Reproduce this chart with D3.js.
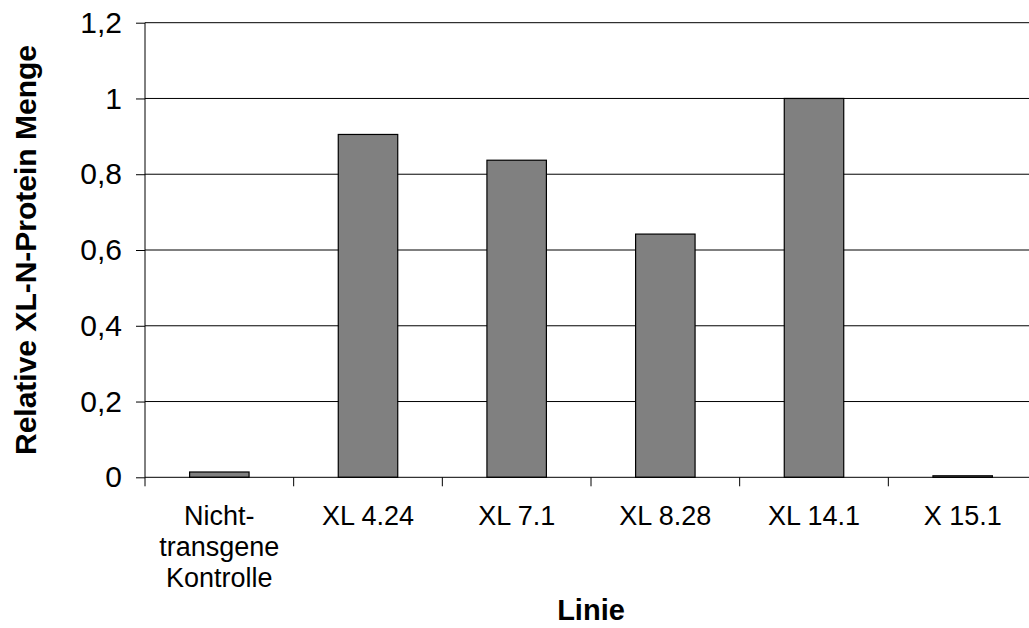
<!DOCTYPE html>
<html>
<head>
<meta charset="utf-8">
<script src="https://cdn.jsdelivr.net/npm/d3@7"></script>
<style>
  html, body { margin: 0; padding: 0; background: #fff; }
  svg { display: block; font-family: "Liberation Sans", Arial, sans-serif; }
</style>
</head>
<body>
<svg id="chart" width="1029" height="628"></svg>
<script>
// Relative XL-N protein amount per line
const categories = ["Nicht-\ntransgene\nKontrolle", "XL 4.24", "XL 7.1", "XL 8.28", "XL 14.1", "X 15.1"];
const values = [0.014, 0.905, 0.837, 0.642, 1.0, 0.004];
const yTicks = [0, 0.2, 0.4, 0.6, 0.8, 1, 1.2];
const yTickLabels = ["0", "0,2", "0,4", "0,6", "0,8", "1", "1,2"];

const svg = d3.select("#chart");
const plotLeft = 145, plotRight = 1037, plotTop = 22.7, plotBottom = 477.3;

const x = d3.scaleBand().domain(categories).range([plotLeft, plotRight]).paddingInner(0.6).paddingOuter(0.3);
const xEdges = d3.scaleBand().domain(categories).range([plotLeft, plotRight]).padding(0);
const y = d3.scaleLinear().domain([0, 1.2]).range([plotBottom, plotTop]);

// horizontal gridlines
svg.append("g")
  .selectAll("line")
  .data(yTicks.filter(d => d > 0))
  .join("line")
  .attr("x1", plotLeft).attr("x2", plotRight)
  .attr("y1", d => y(d)).attr("y2", d => y(d))
  .attr("stroke", "#000").attr("stroke-width", 1);

// bars
svg.append("g")
  .selectAll("rect")
  .data(categories.map((c, i) => ({ c, v: values[i] })))
  .join("rect")
  .attr("x", d => x(d.c))
  .attr("width", x.bandwidth())
  .attr("y", d => y(d.v))
  .attr("height", d => y(0) - y(d.v))
  .attr("fill", "#808080")
  .attr("stroke", "#000")
  .attr("stroke-width", 1.2);

// y axis
const yAxis = d3.axisLeft(y)
  .tickValues(yTicks)
  .tickFormat((d, i) => yTickLabels[i])
  .tickSize(9)
  .tickPadding(14);
const gy = svg.append("g").attr("transform", `translate(${plotLeft},0)`).call(yAxis);
gy.select(".domain").attr("stroke", "#000").attr("d", `M0,${plotTop}V${plotBottom}`);
gy.selectAll(".tick line").attr("stroke", "#000");
gy.selectAll(".tick text").attr("font-size", 30).attr("fill", "#000")
  .attr("font-family", "Liberation Sans, Arial, sans-serif");

// x axis: baseline plus category boundary ticks
svg.append("line")
  .attr("x1", plotLeft).attr("x2", plotRight)
  .attr("y1", plotBottom).attr("y2", plotBottom)
  .attr("stroke", "#000");
svg.append("g")
  .selectAll("line")
  .data(categories.map(c => xEdges(c)).concat([plotRight]))
  .join("line")
  .attr("x1", d => d).attr("x2", d => d)
  .attr("y1", plotBottom).attr("y2", plotBottom + 9)
  .attr("stroke", "#000");

// category labels
const labels = svg.append("g")
  .selectAll("text")
  .data(categories)
  .join("text")
  .attr("text-anchor", "middle")
  .attr("font-size", 27)
  .attr("fill", "#000")
  .attr("transform", c => `translate(${xEdges(c) + xEdges.bandwidth() / 2},0)`);
labels.each(function(c) {
  const lines = c.split("\n");
  d3.select(this).selectAll("tspan")
    .data(lines)
    .join("tspan")
    .attr("x", 0)
    .attr("y", (d, i) => 525 + i * 31)
    .text(d => d);
});

// axis titles
svg.append("text")
  .attr("x", 591).attr("y", 620)
  .attr("text-anchor", "middle")
  .attr("font-size", 29).attr("font-weight", "bold")
  .text("Linie");

svg.append("text")
  .attr("transform", "translate(36,250) rotate(-90)")
  .attr("text-anchor", "middle")
  .attr("font-size", 30).attr("font-weight", "bold")
  .text("Relative XL-N-Protein Menge");
</script>
</body>
</html>
